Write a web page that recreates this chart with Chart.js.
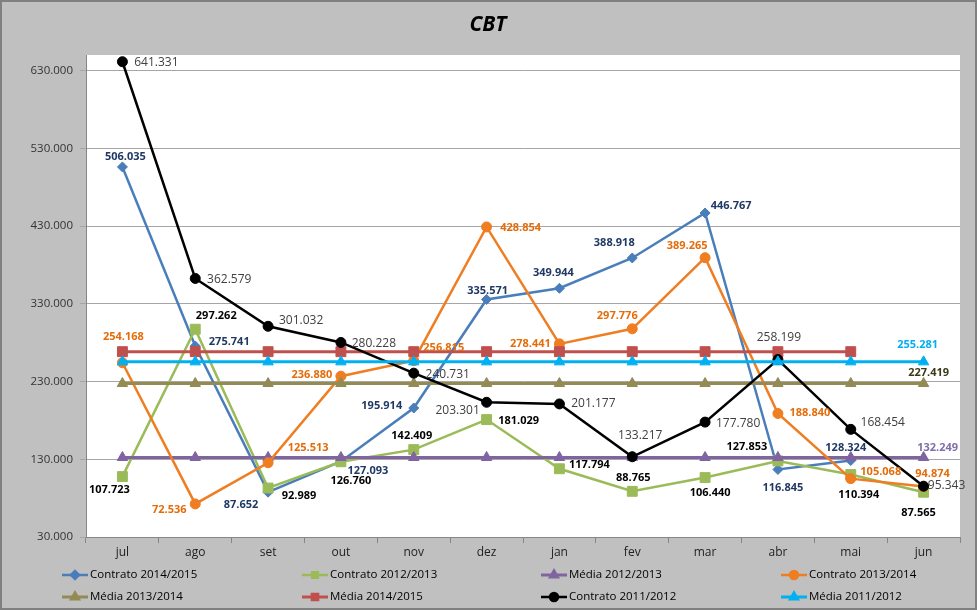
<!DOCTYPE html>
<html><head><meta charset="utf-8">
<script src="https://cdn.jsdelivr.net/npm/chart.js@4.4.1/dist/chart.umd.min.js"></script>
<style>html,body{margin:0;padding:0;background:#c0c0c0}canvas{display:block}</style>
</head><body>
<canvas id="c" width="977" height="610"></canvas>
<script>
const categories = ['jul','ago','set','out','nov','dez','jan','fev','mar','abr','mai','jun'];
const yTicks = [30000,130000,230000,330000,430000,530000,630000];

const contrato1415 = [506035,275741,87652,127093,195914,335571,349944,388918,446767,116845,128324,null];
const contrato1213 = [107723,297262,92989,126760,142409,181029,117794,88765,106440,127853,110394,87565];
const media1213    = [132249,132249,132249,132249,132249,132249,132249,132249,132249,132249,132249,132249];
const contrato1314 = [254168,72536,125513,236880,256815,428854,278441,297776,389265,188840,105068,94874];
const media1314    = [227419,227419,227419,227419,227419,227419,227419,227419,227419,227419,227419,227419];
const media1415    = [268400,268400,268400,268400,268400,268400,268400,268400,268400,268400,268400,null];
const contrato1112 = [641331,362579,301032,280228,240731,203301,201177,133217,177780,258199,168454,95343];
const media1112    = [255281,255281,255281,255281,255281,255281,255281,255281,255281,255281,255281,255281];

// label offsets (style): [dx, dy] of label centre from its point; null = no label
const off1415 = [[3,-10],[34,-4],[-27,13],[27,9],[-32,-2],[1,-9],[-6,-15],[-18,-15],[26,-7],[5,18],[-5,-13],null];
const off1213 = [[-13,13],[21,-13],[31,8],[10,19],[-2,-14],[32,1],[30,-4],[1,-13],[5,15],[-31,-14],[8,20],[-5,21]];
const off1314 = [[1,-26],[-26,6],[40,-15],[-29,-1],[30,-13],[34,1],[-29,0],[-15,-13],[-18,-12],[32,-1],[30,-7],[9,-13]];
const off1112 = [[34,1],[34,1],[33,-6],[33,1],[34,1],[-29,8],[34,0],[8,-21],[33,1],[1,-22],[32,-7],[23,-1]];
const offM1213 = [null,null,null,null,null,null,null,null,null,null,null,[14,-10]];
const offM1314 = [null,null,null,null,null,null,null,null,null,null,null,[5,-11]];
const offM1112 = [null,null,null,null,null,null,null,null,null,null,null,[-6,-17]];

function fmt(v){ return String(v).replace(/\B(?=(\d{3})+(?!\d))/g,'.'); }

const series = [
  {label:'Contrato 2014/2015', data:contrato1415, color:'#4a7ebb', style:'rectRot', r:5, w:2.5, offs:off1415, lc:'#1f3864', bold:true},
  {label:'Contrato 2012/2013', data:contrato1213, color:'#9bbb59', style:'rect', r:7, w:2.5, offs:off1213, lc:'#000000', bold:true},
  {label:'Média 2012/2013', data:media1213, color:'#8064a2', style:'triangle', r:6, w:3, offs:offM1213, lc:'#7f6fa8', bold:true},
  {label:'Contrato 2013/2014', data:contrato1314, color:'#ef7d22', style:'circle', r:5, w:2.5, offs:off1314, lc:'#e46c0a', bold:true},
  {label:'Média 2013/2014', data:media1314, color:'#948a54', style:'triangle', r:6, w:3, offs:offM1314, lc:'#3a3a1a', bold:true},
  {label:'Média 2014/2015', data:media1415, color:'#c0504d', style:'rect', r:7, w:3, offs:null, lc:'#c0504d', bold:true},
  {label:'Contrato 2011/2012', data:contrato1112, color:'#000000', style:'circle', r:5, w:2.5, offs:off1112, lc:'#404040', bold:false},
  {label:'Média 2011/2012', data:media1112, color:'#00b0f0', style:'triangle', r:6, w:3, offs:offM1112, lc:'#00b0f0', bold:true}
];

const datasets = series.map((s,i)=>({
  label:s.label, data:s.data, borderColor:s.color, backgroundColor:s.color,
  pointBackgroundColor:s.color, pointBorderColor:s.color, pointStyle:s.style,
  pointRadius:s.r, pointBorderWidth:1, borderWidth:s.w, tension:0, order:7-i, clip:false
}));

const bgPlugin = {
  id:'bg',
  beforeDraw(chart){
    const c=chart.ctx, a=chart.chartArea;
    c.save();
    c.fillStyle='#c0c0c0'; c.fillRect(0,0,chart.width,chart.height);
    c.strokeStyle='#808080'; c.lineWidth=2; c.strokeRect(1,1,chart.width-2,chart.height-2);
    c.fillStyle='#ffffff'; c.fillRect(a.left,a.top,a.right-a.left,a.bottom-a.top);
    c.fillStyle='#000'; c.font='italic bold 21px "Open Sans"'; c.textAlign='center'; c.textBaseline='middle';
    c.fillText('CBT',488,25);
    c.restore();
  }
};

const labelPlugin = {
  id:'labels',
  afterDatasetsDraw(chart){
    const c=chart.ctx;
    c.save(); c.textAlign='center'; c.textBaseline='middle';
    series.forEach((s,di)=>{
      if(!s.offs) return;
      const meta=chart.getDatasetMeta(di);
      s.data.forEach((v,i)=>{
        const o=s.offs[i];
        if(v==null||!o) return;
        const p=meta.data[i];
        c.font=(s.bold?'bold 11px':'12px')+' "Open Sans"';
        c.fillStyle=s.lc;
        c.fillText(fmt(v),p.x+o[0],p.y+o[1]);
      });
    });
    c.restore();
  }
};

const legendPlugin = {
  id:'customLegend',
  afterDraw(chart){
    const c=chart.ctx;
    const cols=[90,330,569,809], rows=[575,597];
    c.save();
    series.forEach((s,i)=>{
      const tx=cols[i%4], ty=rows[Math.floor(i/4)];
      c.strokeStyle=s.color; c.lineWidth=s.w;
      c.beginPath(); c.moveTo(tx-28,ty); c.lineTo(tx-2,ty); c.stroke();
      c.fillStyle=s.color; c.strokeStyle=s.color;
      Chart.helpers.drawPoint(c,{pointStyle:s.style,radius:4,borderWidth:1},tx-15,ty);
      c.fillStyle='#000'; c.font='11.5px "Open Sans"'; c.textAlign='left'; c.textBaseline='middle';
      c.fillText(s.label,tx,ty);
    });
    c.restore();
  }
};

new Chart(document.getElementById('c'),{
  type:'line',
  data:{labels:categories, datasets},
  plugins:[bgPlugin,labelPlugin,legendPlugin],
  options:{
    responsive:false, animation:false,
    layout:{padding:{left:0,right:17,top:55,bottom:0}},
    plugins:{legend:{display:false},title:{display:false},tooltip:{enabled:false}},
    scales:{
      x:{
        offset:true,
        grid:{drawOnChartArea:false,drawTicks:true,tickLength:6,offset:true,color:'#868686'},
        border:{display:true,color:'#868686'},
        ticks:{color:'#222',font:{family:'Open Sans',size:12},padding:2},
        afterFit(s){ s.height=73; }
      },
      y:{
        min:30000, max:650000,
        afterBuildTicks(s){ s.ticks=yTicks.map(v=>({value:v})); },
        grid:{color:'#a6a6a6',tickLength:6},
        border:{display:true,color:'#868686'},
        ticks:{color:'#333',font:{family:'Open Sans',size:11.5},padding:7,callback:v=>fmt(v)},
        afterFit(s){ s.width=86; }
      }
    }
  }
});
</script>
</body></html>
